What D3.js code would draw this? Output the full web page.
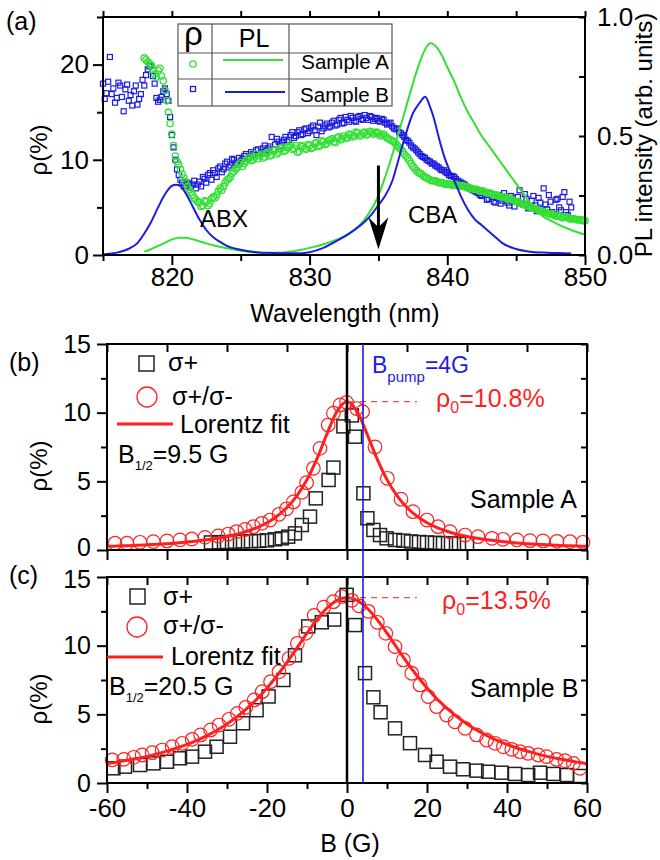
<!DOCTYPE html>
<html><head><meta charset="utf-8">
<script src="https://cdn.jsdelivr.net/npm/d3@7"></script>
<style>
html,body{margin:0;padding:0;background:#fff}
svg{display:block}
</style></head><body>
<svg id="chart" width="660" height="860"></svg>
<script>
// ================= DATA =================
// ---- Panel (a): polarization rho (%) vs wavelength ----
// sample A (green circles), two interleaved read-out grids
const rhoA_wavelength = d3.range(818, 850.001, 0.25);
const rhoA_values = [
  20.7, 20.3, 19.9, 19.0, 19.4, 18.8, 17.3, 15.0,
  12.7, 10.4, 9.5, 8.5, 7.7, 6.9, 6.3, 5.8,
  5.5, 5.2, 5.6, 5.4, 6.1, 6.3, 7.0, 7.2,
  7.9, 8.2, 8.8, 9.2, 9.7, 9.6, 10.1, 9.9,
  10.3, 10.1, 10.6, 10.3, 10.8, 10.5, 11.0, 10.8,
  11.3, 11.0, 11.4, 11.1, 11.5, 10.9, 11.4, 11.1,
  11.5, 11.3, 11.8, 11.5, 11.9, 11.7, 12.1, 11.9,
  12.3, 12.1, 12.5, 12.3, 12.6, 12.5, 12.8, 12.6,
  12.9, 12.7, 12.9, 12.8, 12.8, 12.6, 12.5, 12.2,
  12.0, 11.7, 11.3, 10.9, 10.4, 9.9, 9.3, 8.9,
  8.6, 8.3, 8.1, 7.9, 7.8, 7.7, 7.6, 7.5,
  7.5, 7.4, 7.4, 7.3, 7.3, 7.2, 7.1, 7.0,
  6.9, 6.8, 6.7, 6.6, 6.5, 6.4, 6.3, 6.2,
  6.1, 6.0, 5.9, 5.8, 5.6, 5.5, 5.3, 5.2,
  5.1, 4.9, 4.8, 4.6, 4.5, 4.4, 4.3, 4.2,
  4.1, 4.0, 4.0, 3.9, 3.8, 3.8, 3.7, 3.7,
  3.6
];
const rhoA2_wavelength = d3.range(818.125, 850, 0.25);
const rhoA2_values = [
  20.5, 20.1, 19.5, 18.7, 19.6, 18.3, 16.2, 13.8,
  11.5, 9.8, 9.0, 8.1, 7.2, 6.6, 6.0, 5.6,
  5.1, 5.7, 5.2, 5.9, 6.0, 6.7, 6.8, 7.6,
  8.0, 8.6, 9.0, 9.5, 9.3, 9.9, 10.2, 10.0,
  10.6, 10.4, 10.2, 10.7, 10.4, 11.0, 10.6, 11.2,
  10.9, 11.3, 11.6, 11.2, 10.8, 11.5, 11.2, 11.6,
  11.2, 11.7, 11.4, 12.0, 11.6, 12.0, 12.2, 11.8,
  12.4, 12.2, 12.3, 12.7, 12.4, 12.9, 12.5, 12.8,
  12.6, 13.0, 12.7, 12.9, 12.5, 12.7, 12.3, 12.1,
  11.9, 11.5, 11.1, 10.6, 10.2, 9.6, 9.1, 8.7,
  8.5, 8.2, 8.0, 7.8, 7.8, 7.6, 7.6, 7.4,
  7.5, 7.3, 7.4, 7.2, 7.3, 7.1, 7.0, 6.9,
  6.9, 6.7, 6.7, 6.5, 6.5, 6.3, 6.3, 6.1,
  6.1, 5.9, 5.9, 5.7, 5.6, 5.4, 5.3, 5.1,
  5.0, 4.9, 4.7, 4.6, 4.5, 4.3, 4.3, 4.1,
  4.1, 3.9, 4.0, 3.8, 3.8, 3.7, 3.7, 3.6
];
// sample B (blue squares), two interleaved read-out grids
const rhoB_wavelength = d3.range(815, 849.001, 0.25);
const rhoB_values = [
  18.0, 17.0, 20.8, 17.5, 16.5, 17.8, 15.1, 17.9,
  16.8, 17.2, 15.8, 16.9, 17.8, 19.5, 19.9, 18.0,
  16.1, 16.6, 17.5, 16.2, 12.6, 10.0, 8.4, 7.6,
  7.3, 7.5, 7.4, 7.0, 7.7, 8.2, 7.6, 8.6,
  8.9, 8.2, 9.3, 9.0, 9.8, 9.4, 10.0, 9.5,
  9.9, 10.4, 10.1, 10.8, 10.5, 11.1, 10.8, 11.5,
  11.2, 12.4, 11.6, 11.9, 11.8, 12.4, 12.1, 12.9,
  12.5, 13.1, 12.7, 13.3, 13.0, 13.6, 12.6, 13.9,
  13.3, 13.8, 13.5, 14.1, 13.7, 14.4, 13.9, 14.2,
  14.6, 14.1, 14.5, 14.3, 14.7, 14.2, 14.5, 14.3,
  14.1, 14.3, 13.9, 13.8, 13.5, 13.2, 12.9, 12.6,
  12.1, 11.8, 11.3, 11.0, 10.6, 10.3, 10.0, 9.8,
  9.6, 9.3, 9.0, 8.9, 8.6, 8.3, 8.2, 7.8,
  7.6, 7.4, 7.1, 6.9, 6.7, 6.5, 6.2, 6.4,
  5.9, 6.1, 5.5, 6.3, 5.7, 5.9, 5.2, 6.0,
  5.6, 6.8, 5.3, 5.9, 5.0, 6.2, 4.6, 5.5,
  7.0, 4.8, 5.6, 4.3, 5.9, 4.7, 6.6, 4.2,
  5.0
];
const rhoB2_wavelength = d3.range(815.125, 849, 0.25);
const rhoB2_values = [
  16.4, 18.2, 16.9, 16.0, 18.1, 16.6, 17.4, 16.2,
  15.7, 17.8, 16.4, 18.4, 18.9, 19.8, 18.8, 16.5,
  16.3, 17.2, 16.9, 14.5, 11.3, 9.0, 7.9, 7.2,
  7.6, 7.1, 7.8, 7.4, 7.2, 8.0, 8.4, 7.9,
  8.6, 9.1, 8.7, 9.6, 9.2, 10.1, 9.7, 10.2,
  10.1, 10.6, 10.3, 10.6, 11.0, 10.6, 11.2, 11.0,
  11.4, 11.1, 12.2, 11.5, 12.1, 11.9, 12.6, 12.3,
  12.9, 12.6, 13.2, 12.8, 13.4, 13.1, 13.5, 13.0,
  13.6, 13.4, 13.9, 13.6, 14.2, 13.8, 14.5, 14.0,
  14.4, 14.0, 14.6, 14.2, 14.4, 14.6, 14.1, 14.4,
  14.0, 14.2, 13.7, 13.9, 13.3, 13.3, 12.8, 12.4,
  12.0, 11.5, 11.2, 10.8, 10.4, 10.2, 9.9, 9.6,
  9.4, 9.2, 8.9, 8.7, 8.4, 8.3, 8.0, 7.7,
  7.5, 7.2, 7.0, 6.8, 6.6, 6.3, 6.5, 5.8,
  6.4, 5.6, 6.0, 5.4, 6.5, 5.5, 6.2, 5.1,
  6.1, 5.4, 6.4, 4.9, 5.7, 5.2, 6.0, 4.8,
  5.3, 6.3, 4.5, 5.8, 5.0, 6.1, 4.5, 5.6
];
// ---- Panel (a): PL intensity (arb. units) ----
const plA_wavelength = [818, 818.5, 819, 819.5, 820, 820.5, 821, 821.5, 822, 822.5, 823, 824, 825, 826, 827, 828, 829, 830, 831, 832, 833, 834, 835, 835.5, 836, 836.5, 837, 837.5, 838, 838.5, 838.8, 839.2, 839.6, 840, 840.5, 841, 841.5, 842, 842.5, 843, 843.5, 844, 844.5, 845, 845.5, 846, 846.5, 847, 847.5, 848, 849, 850];
const plA_values = [0.014, 0.025, 0.038, 0.052, 0.065, 0.073, 0.072, 0.066, 0.058, 0.049, 0.041, 0.028, 0.018, 0.011, 0.008, 0.010, 0.018, 0.030, 0.045, 0.065, 0.095, 0.15, 0.25, 0.33, 0.42, 0.52, 0.62, 0.72, 0.81, 0.875, 0.89, 0.875, 0.84, 0.79, 0.73, 0.66, 0.60, 0.55, 0.50, 0.46, 0.42, 0.38, 0.34, 0.30, 0.26, 0.22, 0.19, 0.16, 0.145, 0.13, 0.105, 0.085];
const plB_wavelength = [815, 815.5, 816, 816.5, 817, 817.5, 818, 818.5, 819, 819.5, 820, 820.3, 820.6, 821, 821.5, 822, 822.5, 823, 823.5, 824, 825, 826, 827, 828, 829, 830, 831, 832, 833, 834, 834.5, 835, 835.5, 836, 836.5, 837, 837.5, 838, 838.4, 838.7, 839, 839.4, 839.8, 840.2, 840.6, 841, 841.5, 842, 842.5, 843, 843.5, 844, 845, 846, 847, 848, 849];
const plB_values = [0.002, 0.005, 0.01, 0.018, 0.03, 0.05, 0.09, 0.14, 0.2, 0.255, 0.29, 0.295, 0.29, 0.26, 0.205, 0.15, 0.105, 0.075, 0.055, 0.038, 0.022, 0.013, 0.009, 0.007, 0.007, 0.012, 0.03, 0.06, 0.095, 0.14, 0.17, 0.21, 0.25, 0.31, 0.41, 0.51, 0.595, 0.64, 0.665, 0.63, 0.58, 0.49, 0.41, 0.35, 0.3, 0.245, 0.19, 0.15, 0.125, 0.1, 0.075, 0.05, 0.025, 0.014, 0.01, 0.008, 0.006];
const arrowWavelength = 835;
const arrowRho = [9.4, 0.6];
const xTicksA = [820, 830, 840, 850];
const xMinorA = [815, 825, 835, 845];
const yTicksA = [0, 10, 20];
const yMinorA = [5, 15, 25];
const plTicks = [0.0, 0.5, 1.0];
const plMinor = [0.25, 0.75];

// ---- Panel (b): Sample A, rho vs B ----
const bCirc_B = [-58, -55, -51.75, -48.4, -45, -41.75, -38.8, -35.5, -32.2, -29.7, -27.6, -25.5, -23.4, -21.3, -19.25, -17, -15.1, -13.4, -11.3, -10.1, -8.4, -6.75, -4.7, -3.4, -1.75, -0.1, 2.4, 3.9, 7, 10.1, 13.5, 16.5, 20, 22.75, 25.75, 29.5, 32.75, 36.25, 39, 42.5, 45.75, 49, 52.5, 55.75, 59];
const bCirc_rho = [0.49, 0.49, 0.56, 0.61, 0.66, 0.73, 0.8, 0.92, 1.02, 1.16, 1.34, 1.5, 1.7, 1.94, 2.18, 2.6, 3.0, 3.5, 4.2, 4.9, 5.95, 7.4, 9.1, 9.96, 10.56, 10.75, 10.3, 10.07, 7.5, 5.22, 3.7, 2.79, 2.18, 1.70, 1.33, 1.09, 0.97, 0.85, 0.78, 0.73, 0.68, 0.66, 0.63, 0.60, 0.56];
const bSq_B = [-34, -32, -30, -28, -26, -24, -22, -20, -18, -16.3, -14.7, -13, -11.3, -9.25, -7.8, -4.6, -3.4, -0.9, 1.2, 2.0, 4.1, 5.1, 6.6, 8.25, 9.9, 12, 14.1, 16, 18, 20, 22, 24, 26, 28, 30];
const bSq_rho = [0.55, 0.57, 0.58, 0.6, 0.62, 0.64, 0.66, 0.7, 0.78, 0.85, 0.97, 1.21, 1.82, 2.43, 3.76, 5.1, 6.0, 9.0, 9.8, 8.25, 4.13, 2.31, 1.46, 1.09, 0.85, 0.73, 0.68, 0.62, 0.58, 0.55, 0.52, 0.5, 0.48, 0.47, 0.45];
const fit_B = d3.range(-60, 60.001, 2.5);
const bFit_rho = [0.264, 0.287, 0.313, 0.342, 0.376, 0.415, 0.461, 0.514, 0.577, 0.651, 0.741, 0.850, 0.984, 1.151, 1.363, 1.634, 1.988, 2.458, 3.092, 3.955, 5.123, 6.653, 8.457, 10.10, 10.8, 10.10, 8.457, 6.653, 5.123, 3.955, 3.092, 2.458, 1.988, 1.634, 1.363, 1.151, 0.984, 0.850, 0.741, 0.651, 0.577, 0.514, 0.461, 0.415, 0.376, 0.342, 0.313, 0.287, 0.264];
const rho0_A = 10.8;

// ---- Panel (c): Sample B, rho vs B ----
const cCirc_B = [-58.7, -55.8, -53.3, -51.2, -48.7, -46.2, -43.7, -41.2, -38.7, -36.6, -34.1, -32, -29.5, -27.4, -25.3, -23.2, -21.2, -19.1, -17, -14.5, -12.4, -10.3, -8.2, -5.8, -3.4, -1.3, 1.2, 3.0, 5.3, 7.6, 9.7, 12, 14.1, 16.2, 18.25, 20.3, 22.4, 24.9, 27, 29.5, 32.4, 34.9, 37, 39.1, 41.2, 43.25, 45.3, 47.8, 49.9, 52.4, 54.5, 56.6, 58.25];
const cCirc_rho = [1.68, 1.72, 1.87, 2.04, 2.21, 2.4, 2.64, 2.89, 3.18, 3.5, 3.86, 4.22, 4.64, 5.07, 5.51, 6.05, 6.65, 7.38, 8.1, 9.08, 10.17, 10.9, 12.2, 12.8, 13.2, 13.57, 13.3, 12.9, 12.5, 11.7, 10.9, 9.93, 8.96, 7.99, 7.14, 6.29, 5.56, 4.95, 4.46, 3.98, 3.5, 3.13, 2.89, 2.64, 2.45, 2.28, 2.16, 2.04, 1.92, 1.72, 1.62, 1.43, 1.07];
const cSq_B = [-58.4, -55.5, -51.75, -48.4, -45, -41.75, -38.75, -35.5, -32.6, -29.25, -26, -22.6, -19.6, -15.9, -13, -9.7, -6.3, -3.2, -0.1, 2, 4.5, 6.6, 8.4, 12, 15.75, 19.5, 22.4, 25.75, 29, 32.4, 35.3, 38.6, 42, 45.3, 48.25, 51.6, 55, 58.25];
const cSq_rho = [1.07, 1.19, 1.31, 1.43, 1.55, 1.8, 1.92, 2.28, 2.64, 3.37, 4.35, 5.3, 6.3, 7.5, 9.3, 11.4, 11.7, 11.9, 13.7, 11.5, 8.0, 6.24, 5.15, 3.98, 2.9, 2.04, 1.55, 1.19, 1.0, 0.9, 0.82, 0.75, 0.66, 0.58, 0.75, 0.66, 0.58, 0.51];
const cFit_rho = [1.41, 1.52, 1.65, 1.79, 1.94, 2.12, 2.32, 2.55, 2.81, 3.11, 3.45, 3.84, 4.30, 4.82, 5.43, 6.12, 6.92, 7.81, 8.79, 9.84, 10.91, 11.91, 12.74, 13.30, 13.5, 13.30, 12.74, 11.91, 10.91, 9.84, 8.79, 7.81, 6.92, 6.12, 5.43, 4.82, 4.30, 3.84, 3.45, 3.11, 2.81, 2.55, 2.32, 2.12, 1.94, 1.79, 1.65, 1.52, 1.41];
const rho0_B = 13.5;
const B_pump = 4;
const bTicksB = [-60, -45, -30, -15, 0, 15, 30, 45, 60];
const bTicksC = [-60, -40, -20, 0, 20, 40, 60];
const bMinorC = [-50, -30, -10, 10, 30, 50];
const rhoTicks = [0, 5, 10, 15];
const rhoMinor = [2.5, 7.5, 12.5];

// ================= DRAW =================
const GREEN = "#33e033", BLUE = "#1c1ce0", RED = "#ff1f1f";
const FF = "'Liberation Sans', Arial, Helvetica, sans-serif";
const svg = d3.select("#chart");

const xa = d3.scaleLinear([815, 850], [103, 585]);
const ya = d3.scaleLinear([0, 25], [255, 17]);
const ypl = d3.scaleLinear([0, 1], [255, 17]);
const xb = d3.scaleLinear([-60, 60], [107, 587]);
const yb = d3.scaleLinear([0, 15], [550, 344]);
const yc = d3.scaleLinear([0, 15], [783, 577]);

const plainNum = d => String(d);   // keeps ASCII hyphen for negatives
function axis(gen, tx, ty, opts = {}) {
  const g = svg.append("g").attr("transform", `translate(${tx},${ty})`).call(gen);
  g.select(".domain").remove();
  g.selectAll(".tick line").attr("stroke", "#000").attr("stroke-width", 2);
  g.selectAll(".tick text").attr("font-family", FF).attr("font-size", opts.fs || 25).attr("fill", "#000");
  return g;
}
const noLab = () => "";
function frame(x0, y0, x1, y1) {
  svg.append("rect").attr("x", x0).attr("y", y0).attr("width", x1 - x0).attr("height", y1 - y0)
    .attr("fill", "none").attr("stroke", "#000").attr("stroke-width", 2);
}
function text(x, y, s, size, opt = {}) {
  const t = svg.append("text").attr("x", x).attr("y", y).attr("font-family", FF)
    .attr("font-size", size).attr("fill", opt.fill || "#000")
    .attr("text-anchor", opt.anchor || "start").text(s);
  if (opt.rotate) t.attr("transform", `rotate(${opt.rotate},${x},${y})`);
  return t;
}
function subText(x, y, main, sub, rest, size, subSize, subDy, fill) {
  const t = svg.append("text").attr("x", x).attr("y", y).attr("font-family", FF)
    .attr("font-size", size).attr("fill", fill || "#000");
  t.append("tspan").text(main);
  t.append("tspan").attr("font-size", subSize).attr("dy", subDy).text(sub);
  t.append("tspan").attr("dy", -subDy).text(rest);
  return t;
}

// ---------- Panel (a) ----------
const [ax0, ax1] = xa.range(), ay0 = ya(0), ay1 = ya(25);
axis(d3.axisBottom(xa).tickValues(xTicksA).tickSize(10).tickPadding(3).tickFormat(plainNum), 0, ay0, { fs: 26 });
axis(d3.axisBottom(xa).tickValues(xMinorA).tickSize(6).tickFormat(noLab), 0, ay0);
axis(d3.axisTop(xa).tickValues(xTicksA.concat(xMinorA)).tickSize(6).tickFormat(noLab), 0, ay1);
axis(d3.axisLeft(ya).tickValues(yTicksA).tickSize(10).tickPadding(4).tickFormat(plainNum), ax0, 0, { fs: 26 });
axis(d3.axisLeft(ya).tickValues(yMinorA).tickSize(6).tickFormat(noLab), ax0, 0);
axis(d3.axisRight(ypl).tickValues(plTicks).tickSizeInner(-6).tickSizeOuter(0).tickPadding(12).tickFormat(d3.format(".1f")), ax1, 0, { fs: 26 });
axis(d3.axisRight(ypl).tickValues(plMinor).tickSizeInner(-6).tickSizeOuter(0).tickFormat(noLab), ax1, 0);

const gA = svg.append("g");
const blueSet = rhoB_wavelength.map((w, i) => [w, rhoB_values[i]])
  .concat(rhoB2_wavelength.map((w, i) => [w, rhoB2_values[i]]));
const greenSet = rhoA_wavelength.map((w, i) => [w, rhoA_values[i]])
  .concat(rhoA2_wavelength.map((w, i) => [w, rhoA2_values[i]]));
gA.selectAll("rect.rb").data(blueSet).join("rect").attr("class", "rb")
  .attr("x", d => xa(d[0]) - 2.5).attr("y", d => ya(d[1]) - 2.5).attr("width", 5).attr("height", 5)
  .attr("fill", "none").attr("stroke", BLUE).attr("stroke-width", 1.2);
gA.selectAll("circle.ra").data(greenSet).join("circle").attr("class", "ra")
  .attr("cx", d => xa(d[0])).attr("cy", d => ya(d[1])).attr("r", 3.2)
  .attr("fill", "none").attr("stroke", GREEN).attr("stroke-width", 1.3);
const plLine = d3.line().x(d => xa(d[0])).y(d => ypl(d[1])).curve(d3.curveMonotoneX);
gA.append("path").attr("d", plLine(plA_wavelength.map((w, i) => [w, plA_values[i]])))
  .attr("fill", "none").attr("stroke", GREEN).attr("stroke-width", 2);
gA.append("path").attr("d", plLine(plB_wavelength.map((w, i) => [w, plB_values[i]])))
  .attr("fill", "none").attr("stroke", BLUE).attr("stroke-width", 2);
frame(ax0, ay1, ax1, ay0);

// arrow
const arX = xa(arrowWavelength);
svg.append("line").attr("x1", arX).attr("x2", arX).attr("y1", ya(arrowRho[0])).attr("y2", ya(arrowRho[1]) - 20)
  .attr("stroke", "#000").attr("stroke-width", 3);
svg.append("path").attr("d", `M${arX - 10},${ya(arrowRho[1]) - 32} L${arX},${ya(arrowRho[1])} L${arX + 10},${ya(arrowRho[1]) - 32} L${arX},${ya(arrowRho[1]) - 22} Z`)
  .attr("fill", "#000");
text(200, 227, "ABX", 24);
text(408, 223, "CBA", 24);

// legend table
const lg = svg.append("g").attr("stroke", "#555").attr("stroke-width", 1.2).attr("fill", "none");
lg.append("rect").attr("x", 178).attr("y", 24).attr("width", 214).attr("height", 82).attr("fill", "#fff");
lg.append("line").attr("x1", 178).attr("x2", 392).attr("y1", 53).attr("y2", 53);
lg.append("line").attr("x1", 178).attr("x2", 392).attr("y1", 79).attr("y2", 79);
lg.append("line").attr("x1", 212).attr("x2", 212).attr("y1", 24).attr("y2", 106);
lg.append("line").attr("x1", 289).attr("x2", 289).attr("y1", 24).attr("y2", 106);
text(184, 45, "ρ", 33);
text(254, 47, "PL", 25, { anchor: "middle" });
svg.append("circle").attr("cx", 193).attr("cy", 64).attr("r", 3.2).attr("fill", "none").attr("stroke", GREEN).attr("stroke-width", 1.3);
svg.append("line").attr("x1", 223).attr("x2", 283).attr("y1", 60).attr("y2", 60).attr("stroke", GREEN).attr("stroke-width", 2);
text(389, 69, "Sample A", 20.5, { anchor: "end" });
svg.append("rect").attr("x", 190.5).attr("y", 86.5).attr("width", 5).attr("height", 5).attr("fill", "none").attr("stroke", BLUE).attr("stroke-width", 1.3);
svg.append("line").attr("x1", 225).attr("x2", 285).attr("y1", 92).attr("y2", 92).attr("stroke", BLUE).attr("stroke-width", 2);
text(389, 102, "Sample B", 20.5, { anchor: "end" });

text(6, 30, "(a)", 25);
text(47, 150, "ρ(%)", 24, { anchor: "middle", rotate: -90 });
text(652, 135, "PL intensity (arb. units)", 24, { anchor: "middle", rotate: -90 });
text(345, 322, "Wavelength (nm)", 25, { anchor: "middle" });

// ---------- Panels (b) and (c) ----------
const [bx0, bx1] = xb.range();
function rhoPanel(y, circB, circR, sqB, sqR, fitR, rho0, isC) {
  const y0 = y(0), y1 = y(15);
  if (isC) {
    axis(d3.axisBottom(xb).tickValues(bTicksC).tickSize(10).tickPadding(6).tickFormat(plainNum), 0, y0, { fs: 26 });
    axis(d3.axisBottom(xb).tickValues(bMinorC).tickSize(6).tickFormat(noLab), 0, y0);
    axis(d3.axisTop(xb).tickValues(bTicksC.concat(bMinorC)).tickSizeInner(-8).tickSizeOuter(0).tickFormat(noLab), 0, y1);
  } else {
    axis(d3.axisBottom(xb).tickValues(bTicksB).tickSize(10).tickFormat(noLab), 0, y0);
    axis(d3.axisTop(xb).tickValues(bTicksB).tickSizeInner(-8).tickSizeOuter(0).tickFormat(noLab), 0, y1);
  }
  const yl = axis(d3.axisLeft(y).tickValues(rhoTicks).tickSize(10).tickPadding(6).tickFormat(plainNum), bx0, 0);
  // keep the adjoining "0" (panel b) and "15" (panel c) labels apart
  yl.selectAll(".tick text").filter(d => (isC ? d === 15 : d === 0)).attr("dy", isC ? "0.42em" : "0.22em");
  axis(d3.axisLeft(y).tickValues(rhoMinor).tickSize(6).tickFormat(noLab), bx0, 0);
  axis(d3.axisRight(y).tickValues(rhoTicks.concat(rhoMinor)).tickSizeInner(-6).tickSizeOuter(0).tickFormat(noLab), bx1, 0);

  const g = svg.append("g");
  g.selectAll("rect").data(sqB.map((b, i) => [b, sqR[i]])).join("rect")
    .attr("x", d => xb(d[0]) - 6.5).attr("y", d => y(d[1]) - 6.5).attr("width", 13).attr("height", 13)
    .attr("fill", "none").attr("stroke", "#222").attr("stroke-width", 1.5);
  g.selectAll("circle").data(circB.map((b, i) => [b, circR[i]])).join("circle")
    .attr("cx", d => xb(d[0])).attr("cy", d => y(d[1])).attr("r", 6.8)
    .attr("fill", "none").attr("stroke", RED).attr("stroke-width", 1.2);
  const fl = d3.line().x(d => xb(d[0])).y(d => y(d[1])).curve(d3.curveMonotoneX);
  g.append("path").attr("d", fl(fit_B.map((b, i) => [b, fitR[i]])))
    .attr("fill", "none").attr("stroke", RED).attr("stroke-width", 3);
  svg.append("line").attr("x1", xb(0)).attr("x2", xb(0)).attr("y1", y1).attr("y2", y0)
    .attr("stroke", "#000").attr("stroke-width", 2.5);
  svg.append("line").attr("x1", xb(0.5)).attr("x2", xb(17.5)).attr("y1", y(rho0)).attr("y2", y(rho0))
    .attr("stroke", "#ff4a4a").attr("stroke-width", 1.3).attr("stroke-dasharray", "6,5");
  frame(bx0, y1, bx1, y0);
}
rhoPanel(yb, bCirc_B, bCirc_rho, bSq_B, bSq_rho, bFit_rho, rho0_A, false);
rhoPanel(yc, cCirc_B, cCirc_rho, cSq_B, cSq_rho, cFit_rho, rho0_B, true);

// B_pump line
svg.append("line").attr("x1", xb(B_pump)).attr("x2", xb(B_pump)).attr("y1", yb(15)).attr("y2", yc(0))
  .attr("stroke", BLUE).attr("stroke-width", 1.6);

// panel (b) annotations
text(9, 371, "(b)", 25);
text(47, 466, "ρ(%)", 24, { anchor: "middle", rotate: -90 });
svg.append("rect").attr("x", 139).attr("y", 356).attr("width", 15).attr("height", 15).attr("fill", "none").attr("stroke", "#222").attr("stroke-width", 1.5);
text(168, 371, "σ+", 25);
svg.append("circle").attr("cx", 147).attr("cy", 397).attr("r", 10).attr("fill", "none").attr("stroke", RED).attr("stroke-width", 1.3);
text(172, 405, "σ+/σ-", 25);
svg.append("line").attr("x1", 117).attr("x2", 173).attr("y1", 424).attr("y2", 424).attr("stroke", RED).attr("stroke-width", 3);
text(180, 433, "Lorentz fit", 25);
subText(118, 463, "B", "1/2", "=9.5 G", 25, 13, 7);
text(470, 508, "Sample A", 25);
subText(436, 407, "ρ", "0", "=10.8%", 25, 16, 6, RED);
subText(372, 373, "B", "pump", "=4G", 23, 15, 9, BLUE);

// panel (c) annotations
text(9, 584, "(c)", 25);
text(47, 699, "ρ(%)", 24, { anchor: "middle", rotate: -90 });
svg.append("rect").attr("x", 130).attr("y", 589).attr("width", 15).attr("height", 15).attr("fill", "none").attr("stroke", "#222").attr("stroke-width", 1.5);
text(163, 605, "σ+", 25);
svg.append("circle").attr("cx", 137).attr("cy", 627).attr("r", 10).attr("fill", "none").attr("stroke", RED).attr("stroke-width", 1.3);
text(163, 634, "σ+/σ-", 25);
svg.append("line").attr("x1", 107).attr("x2", 163).attr("y1", 657).attr("y2", 657).attr("stroke", RED).attr("stroke-width", 3);
text(171, 665, "Lorentz fit", 25);
subText(109, 695, "B", "1/2", "=20.5 G", 25, 13, 7);
text(470, 697, "Sample B", 25);
subText(442, 609, "ρ", "0", "=13.5%", 25, 16, 6, RED);
text(350, 852, "B (G)", 25, { anchor: "middle" });
</script>
</body></html>
